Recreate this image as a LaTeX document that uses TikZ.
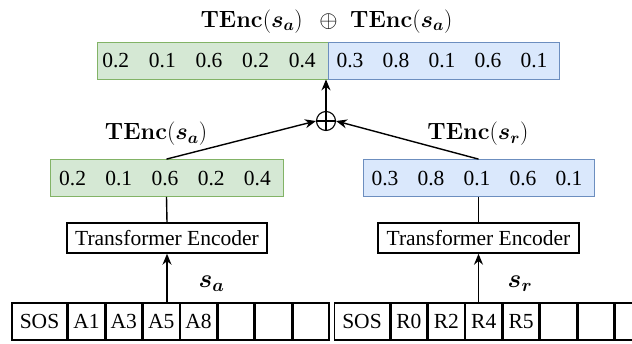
\RequirePackage{fix-cm}
\documentclass[tikz,border=0pt]{standalone}
\usepackage[no-math]{fontspec}
\setmainfont{Liberation Serif}
\usepackage{amsmath,bm}
\usetikzlibrary{arrows.meta}
\definecolor{gfill}{HTML}{D5E8D4}
\definecolor{gline}{HTML}{82B366}
\definecolor{bfill}{HTML}{DAE8FC}
\definecolor{bline}{HTML}{6C8EBF}
\tikzset{
  vecg/.style={draw=gline, fill=gfill, line width=0.8pt, minimum width=231pt, minimum height=37pt, inner sep=0pt},
  vecb/.style={draw=bline, fill=bfill, line width=0.8pt, minimum width=231pt, minimum height=37pt, inner sep=0pt},
  encbox/.style={draw, line width=1.4pt, minimum width=200pt, minimum height=30pt, inner sep=0pt},
  cell/.style={draw, line width=1.4pt, minimum width=36pt, minimum height=37pt, inner sep=0pt},
  sos/.style={cell, minimum width=55pt},
  num/.style={inner sep=0pt},
  lbl/.style={inner sep=0pt, font=\fontsize{23.5}{28}\selectfont},
  seqlbl/.style={inner sep=0pt, font=\fontsize{26}{30}\selectfont},
  arr/.style={-{Stealth[length=11pt,width=9pt]}, line width=1.4pt},
  link/.style={line width=1.4pt},
}
\begin{document}
\begin{tikzpicture}[x=1pt, y=-1pt, font=\fontsize{21.5}{26}\selectfont]
\useasboundingbox (0,0) rectangle (632,343);

% concatenated vector and its caption
\node[lbl, anchor=base east] (titleL) at (303,27) {$\mathbf{TEnc}(\bm{s_a})$};
\node[lbl, anchor=base] (titleOp) at (328.5,27) {$\oplus$};
\node[lbl, anchor=base west] (titleR) at (350,27) {$\mathbf{TEnc}(\bm{s_a})$};
\node[vecg] (topg) at (212.5,60.5) {};
\node[vecb] (topb) at (443.5,60.5) {};
\foreach \v [count=\i] in {0.2,0.1,0.6,0.2,0.4}
  \node[num] (tg\i) at ({209+46.6*(\i-3)},61) {\v};
\foreach \v [count=\i] in {0.3,0.8,0.1,0.6,0.1}
  \node[num] (tb\i) at ({442+46*(\i-3)},61) {\v};

% concatenation operator
\node[circle, draw, line width=1.1pt, minimum size=19pt, inner sep=0pt] (plus) at (326,121) {};
\draw[line width=1.1pt] (plus.north) -- (plus.south) (plus.west) -- (plus.east);
\draw[arr] (plus.north) -- (plus.north |- topg.south);

% left branch
\node[vecg, minimum width=233pt] (lv) at (166.5,178) {};
\foreach \v [count=\i] in {0.2,0.1,0.6,0.2,0.4}
  \node[num] (lv\i) at ({165+46.2*(\i-3)},178.5) {\v};
\node[lbl] (lvlab) at (156,134) {$\mathbf{TEnc}(\bm{s_a})$};
\node[encbox] (lenc) at (167,238) {Transformer Encoder};
\draw[link] (lv.south) -- (lenc.north);
\draw[arr] (lv.north) -- (plus.west);

% right branch
\node[vecb] (rv) at (478.5,178) {};
\foreach \v [count=\i] in {0.3,0.8,0.1,0.6,0.1}
  \node[num] (rv\i) at ({477+46*(\i-3)},178.5) {\v};
\node[lbl] (rvlab) at (478,134) {$\mathbf{TEnc}(\bm{s_r})$};
\node[encbox, minimum width=201pt] (renc) at (478.5,238) {Transformer Encoder};
\draw[link] (rv.south) -- (renc.north);
\draw[arr] (rv.north) -- (plus.east);

% left input sequence
\node[sos] (la0) at (39.5,321.5) {SOS};
\foreach \t [count=\i, evaluate=\i as \j using int(\i-1)] in {A1,A3,A5,A8,{},{},{}}
  \node[cell, anchor=west] (la\i) at (la\j.east) {\t};
\draw[arr] (lenc.south |- la0.north) -- (lenc.south);
\node[seqlbl] (sa) at (211.5,284) {$\bm{s_a}$};

% right input sequence
\node[sos] (ra0) at (362,321.5) {SOS};
\foreach \t [count=\i, evaluate=\i as \j using int(\i-1)] in {R0,R2,R4,R5,{},{},{}}
  \node[cell, anchor=west] (ra\i) at (ra\j.east) {\t};
\draw[arr] (renc.south |- ra0.north) -- (renc.south);
\node[seqlbl] (sr) at (520,284) {$\bm{s_r}$};
\end{tikzpicture}
\end{document}
